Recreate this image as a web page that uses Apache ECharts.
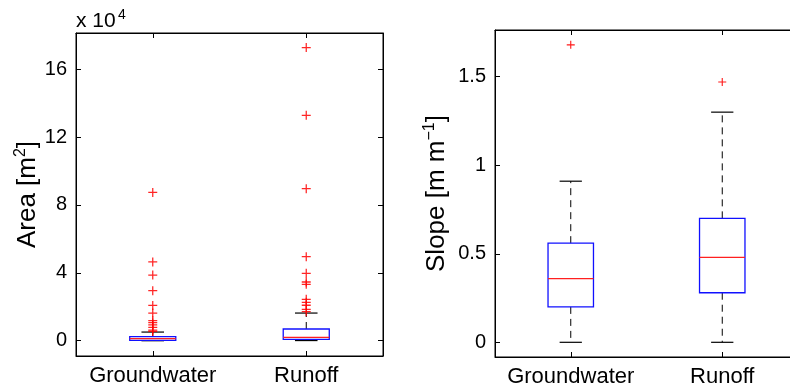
<!DOCTYPE html>
<html><head><meta charset="utf-8">
<script src="https://cdn.jsdelivr.net/npm/echarts@6/dist/echarts.min.js"></script>
<style>html,body{margin:0;padding:0;background:#fff}#c{width:790px;height:390px}</style>
</head><body><div id="c"></div>
<script>
const categories = ['Groundwater', 'Runoff'];

// Area [m^2] box stats: [lowerWhisker, q1, median, q3, upperWhisker]
const areaGroundwater = [0, 200, 1200, 2400, 5100];
const areaRunoff = [100, 800, 2000, 6900, 16300];
const areaOutGroundwater = [87400, 46400, 38700, 29500, 20800, 16300, 11800, 10600, 9300, 7900, 6300, 5500];
const areaOutRunoff = [172700, 132800, 89600, 49500, 39700, 34600, 33200, 24400, 22600, 20900, 18500, 17100];
const areaTicks = [0, 40000, 80000, 120000, 160000];

// Slope [m m^-1] box stats
const slopeGroundwater = [0, 0.20, 0.36, 0.56, 0.91];
const slopeRunoff = [0, 0.28, 0.48, 0.70, 1.30];
const slopeOutGroundwater = [1.68];
const slopeOutRunoff = [1.47];
const slopeTicks = [0, 0.5, 1, 1.5];

const FONT = '"Liberation Sans", Arial, Helvetica, sans-serif';
const PLUS = 'path://M4.3,0 H5.7 V4.3 H10 V5.7 H5.7 V10 H4.3 V5.7 H0 V4.3 H4.3 Z';

function renderBox(params, api) {
  const idx = api.value(0);
  const lo = api.coord([idx, api.value(1)]);
  const q1 = api.coord([idx, api.value(2)]);
  const md = api.coord([idx, api.value(3)]);
  const q3 = api.coord([idx, api.value(4)]);
  const hi = api.coord([idx, api.value(5)]);
  const band = api.size([1, 0])[0];
  const bw = band * 0.30, cw = band * 0.147;
  const x = lo[0];
  const dash = {stroke: '#000', lineWidth: 1, lineDash: [7, 5], fill: null};
  const solid = {stroke: '#000', lineWidth: 1.2, fill: null};
  return {
    type: 'group',
    children: [
      {type: 'line', shape: {x1: x, y1: q3[1], x2: x, y2: hi[1]}, style: dash},
      {type: 'line', shape: {x1: x, y1: q1[1], x2: x, y2: lo[1]}, style: dash},
      {type: 'line', shape: {x1: x - cw / 2, y1: hi[1], x2: x + cw / 2, y2: hi[1]}, style: solid},
      {type: 'line', shape: {x1: x - cw / 2, y1: lo[1], x2: x + cw / 2, y2: lo[1]}, style: solid},
      {type: 'rect', shape: {x: x - bw / 2, y: q3[1], width: bw, height: q1[1] - q3[1]},
        style: {fill: null, stroke: '#1010ff', lineWidth: 1.3}},
      {type: 'line', shape: {x1: x - bw / 2, y1: md[1], x2: x + bw / 2, y2: md[1]},
        style: {stroke: '#ff2020', lineWidth: 1.3, fill: null}}
    ]
  };
}

function outPts(idx, arr) { return arr.map(v => [idx, v]); }

function xAxes(gi) {
  const base = {
    type: 'category', data: categories, gridIndex: gi, boundaryGap: true,
    axisLine: {show: true, onZero: false, lineStyle: {color: '#000', width: 1}},
    axisTick: {show: true, inside: true, alignWithLabel: true, interval: 0, length: 5, lineStyle: {color: '#000'}},
    splitLine: {show: false}
  };
  return [
    Object.assign({}, base, {position: 'bottom',
      axisLabel: {show: true, interval: 0, color: '#000', fontSize: 22, fontFamily: FONT, margin: 9}}),
    Object.assign({}, base, {position: 'top', axisLabel: {show: false}})
  ];
}

function yAxes(gi, min, max, ticks, fmt, name, rich, nameGap) {
  const base = {
    type: 'value', gridIndex: gi, min: min, max: max,
    axisLine: {show: true, onZero: false, lineStyle: {color: '#000', width: 1}},
    axisTick: {show: true, inside: true, length: 5, customValues: ticks, lineStyle: {color: '#000'}},
    splitLine: {show: false}
  };
  return [
    Object.assign({}, base, {position: 'left',
      axisLabel: {show: true, customValues: ticks, formatter: fmt, color: '#000', fontSize: 20, fontFamily: FONT, margin: 9},
      name: name, nameLocation: 'middle', nameRotate: 90, nameGap: nameGap,
      nameTextStyle: {color: '#000', fontFamily: FONT, rich: rich}}),
    Object.assign({}, base, {position: 'right', axisLabel: {show: false}})
  ];
}

const richTitle = {
  a: {fontSize: 26, lineHeight: 30, color: '#000', fontFamily: FONT},
  s: {fontSize: 16, lineHeight: 16, color: '#000', fontFamily: FONT, verticalAlign: 'top'}
};

const chart = echarts.init(document.getElementById('c'), null, {renderer: 'canvas'});
chart.setOption({
  backgroundColor: '#fff',
  animation: false,
  graphic: [
    {type: 'text', x: 76, y: 11, z: 10,
      style: {text: 'x 10', fontSize: 21, fontFamily: FONT, fill: '#000', verticalAlign: 'top', align: 'left'}},
    {type: 'text', x: 118, y: 8, z: 10,
      style: {text: '4', fontSize: 14, fontFamily: FONT, fill: '#000', verticalAlign: 'top', align: 'left'}}
  ],
  grid: [
    {left: 76, top: 33, width: 307, height: 323, show: true, borderColor: '#000', borderWidth: 1, backgroundColor: '#fff', containLabel: false, outerBoundsMode: 'none'},
    {left: 495, top: 30, width: 303, height: 327, show: true, borderColor: '#000', borderWidth: 1, backgroundColor: '#fff', containLabel: false, outerBoundsMode: 'none'}
  ],
  xAxis: xAxes(0).concat(xAxes(1)),
  yAxis: yAxes(0, -9000, 181300, areaTicks, v => String(Math.round(v / 10000)),
      '{a|Area [m}{s|2}{a|]}', richTitle, 33)
    .concat(yAxes(1, -0.083, 1.764, slopeTicks, v => String(v),
      '{a|Slope [m m}{s|\u22121}{a|]}', richTitle, 43)),
  series: [
    {type: 'custom', xAxisIndex: 0, yAxisIndex: 0, renderItem: renderBox,
      data: [[0].concat(areaGroundwater), [1].concat(areaRunoff)], encode: {x: 0, y: [1, 2, 3, 4, 5]}, z: 2},
    {type: 'scatter', xAxisIndex: 0, yAxisIndex: 0, symbol: PLUS, symbolSize: 9,
      itemStyle: {color: '#ff0000', opacity: 0.85},
      data: outPts(0, areaOutGroundwater).concat(outPts(1, areaOutRunoff)), z: 3},
    {type: 'custom', xAxisIndex: 2, yAxisIndex: 2, renderItem: renderBox,
      data: [[0].concat(slopeGroundwater), [1].concat(slopeRunoff)], encode: {x: 0, y: [1, 2, 3, 4, 5]}, z: 2},
    {type: 'scatter', xAxisIndex: 2, yAxisIndex: 2, symbol: PLUS, symbolSize: 8,
      itemStyle: {color: '#ff0000', opacity: 0.9},
      data: outPts(0, slopeOutGroundwater).concat(outPts(1, slopeOutRunoff)), z: 3}
  ]
});
</script>
</body></html>
